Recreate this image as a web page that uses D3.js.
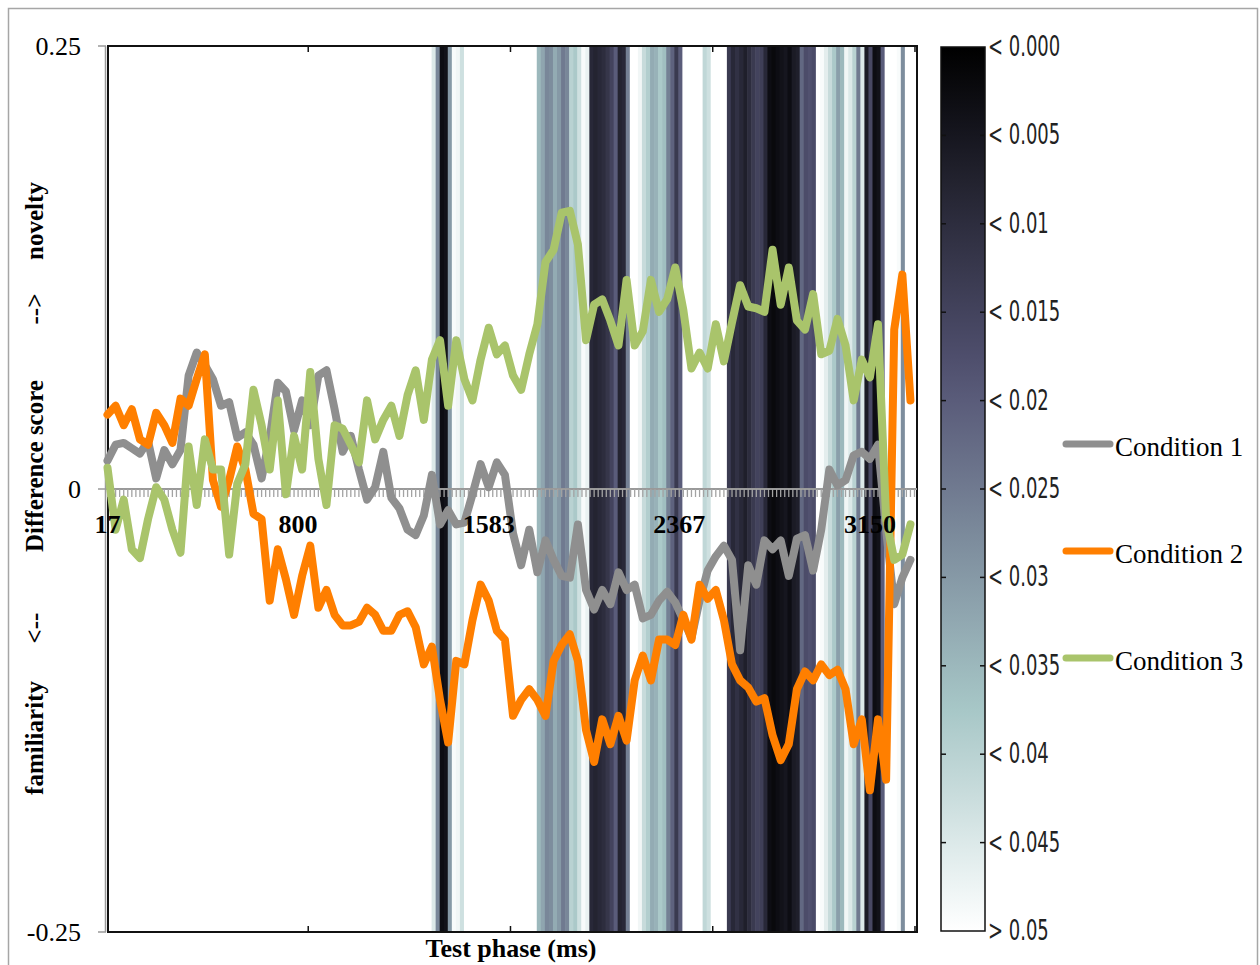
<!DOCTYPE html>
<html>
<head>
<meta charset="utf-8">
<script src="https://cdn.jsdelivr.net/npm/d3@7/dist/d3.min.js"></script>
<style>
  body { margin: 0; background: #fff; }
  svg { display: block; }
</style>
</head>
<body>
<svg id="chart" width="1260" height="965"></svg>
<script>
// ---- data ----
const nCategories = 200;          // line-chart categories (time bins)
const sampleStep = 2;             // series are read every 2nd category
const tickIndex = [0, 47, 94, 141, 188];
const tickLabels = ['17', '800', '1583', '2367', '3150'];

const seriesNames = ['Condition 1', 'Condition 2', 'Condition 3'];
const seriesColors = ['#8f8f8f', '#ff7f00', '#a9c46b'];

const condition1 = [
  0.016, 0.025, 0.026, 0.023, 0.020, 0.027, 0.006, 0.022, 0.014, 0.022,
  0.064, 0.077, 0.070, 0.062, 0.047, 0.049, 0.029, 0.032, 0.025, 0.006,
  0.029, 0.060, 0.055, 0.033, 0.050, 0.036, 0.064, 0.067, 0.045, 0.021,
  0.030, 0.011, -0.006, 0.001, 0.021, -0.005, -0.011, -0.023, -0.026, -0.015,
  0.008, -0.020, -0.012, -0.020, -0.019, -0.003, 0.014, 0.001, 0.015, 0.008,
  -0.025, -0.043, -0.023, -0.047, -0.029, -0.040, -0.049, -0.050, -0.020, -0.057,
  -0.068, -0.057, -0.065, -0.047, -0.057, -0.054, -0.073, -0.071, -0.063, -0.058,
  -0.064, -0.074, -0.084, -0.063, -0.046, -0.038, -0.032, -0.040, -0.091, -0.043,
  -0.054, -0.029, -0.034, -0.029, -0.049, -0.028, -0.026, -0.046, -0.023, 0.011,
  0.002, 0.005, 0.019, 0.021, 0.017, 0.025, -0.023, -0.065, -0.050, -0.040
];
const condition2 = [
  0.042, 0.047, 0.036, 0.045, 0.028, 0.025, 0.043, 0.036, 0.026, 0.051,
  0.047, 0.062, 0.076, 0.005, -0.010, 0.005, 0.024, 0.011, -0.014, -0.017,
  -0.063, -0.034, -0.051, -0.071, -0.049, -0.032, -0.067, -0.057, -0.071, -0.077,
  -0.077, -0.075, -0.067, -0.071, -0.080, -0.080, -0.071, -0.069, -0.078, -0.099,
  -0.089, -0.119, -0.143, -0.097, -0.099, -0.074, -0.054, -0.063, -0.080, -0.085,
  -0.128, -0.119, -0.113, -0.119, -0.128, -0.097, -0.088, -0.082, -0.097, -0.136,
  -0.154, -0.130, -0.144, -0.128, -0.142, -0.108, -0.094, -0.108, -0.085, -0.085,
  -0.088, -0.071, -0.085, -0.054, -0.062, -0.057, -0.074, -0.099, -0.108, -0.112,
  -0.120, -0.118, -0.139, -0.153, -0.144, -0.113, -0.103, -0.108, -0.099, -0.105,
  -0.102, -0.113, -0.144, -0.130, -0.170, -0.130, -0.164, 0.090, 0.121, 0.050
];
const condition3 = [
  0.012, -0.023, -0.006, -0.034, -0.039, -0.017, 0.001, -0.006, -0.023, -0.036,
  0.024, -0.009, 0.028, 0.011, 0.011, -0.037, 0.003, 0.014, 0.056, 0.036,
  0.011, 0.050, -0.003, 0.030, 0.011, 0.066, 0.017, -0.009, 0.036, 0.034,
  0.025, 0.015, 0.050, 0.028, 0.039, 0.047, 0.030, 0.053, 0.067, 0.039,
  0.073, 0.084, 0.047, 0.084, 0.062, 0.050, 0.073, 0.091, 0.076, 0.081,
  0.064, 0.056, 0.076, 0.093, 0.128, 0.135, 0.156, 0.157, 0.138, 0.084,
  0.104, 0.107, 0.095, 0.081, 0.118, 0.081, 0.089, 0.118, 0.100, 0.107,
  0.125, 0.101, 0.068, 0.077, 0.068, 0.093, 0.072, 0.094, 0.115, 0.103,
  0.102, 0.100, 0.135, 0.104, 0.125, 0.095, 0.090, 0.110, 0.076, 0.078,
  0.096, 0.081, 0.050, 0.073, 0.063, 0.093, -0.017, -0.040, -0.037, -0.020
];

// p-value map behind the lines: 200 columns, p > 0.05 everywhere except these
const sigColumns = [
  80, 81, 82, 83, 84, 85, 86, 87,
  106, 107, 108, 109, 110, 111, 112, 113, 114, 115, 116, 117, 118, 119, 120,
  121, 122, 123, 124, 125, 126, 127, 128,
  131, 132, 133, 134, 135, 136, 137, 138, 139, 140, 141,
  147, 148,
  153, 154, 155, 156, 157, 158, 159, 160, 161, 162, 163, 164, 165, 166, 167,
  168, 169, 170, 171, 172, 173, 174,
  176, 177, 178, 179, 180, 181, 182, 183, 184, 185, 186, 187, 188, 189, 190, 191,
  195, 196
];
const sigP = [
  0.045, 0.027, 0.003, 0.004, 0.030, 0.049, 0.048, 0.043,
  0.035, 0.032, 0.027, 0.028, 0.033, 0.030, 0.025, 0.027, 0.040, 0.038, 0.043, 0.049, 0.047, 0.009, 0.008,
  0.009, 0.010, 0.012, 0.015, 0.020, 0.008, 0.009, 0.026,
  0.048, 0.042, 0.039, 0.033, 0.034, 0.038, 0.036, 0.026, 0.021, 0.013, 0.020,
  0.041, 0.043,
  0.013, 0.009, 0.011, 0.009, 0.007, 0.010, 0.013, 0.015, 0.014, 0.009, 0.003, 0.002, 0.003, 0.004, 0.005,
  0.003, 0.006, 0.007, 0.022, 0.017, 0.018, 0.017,
  0.049, 0.046, 0.042, 0.038, 0.031, 0.035, 0.048, 0.045, 0.040, 0.025, 0.045, 0.006, 0.016, 0.003, 0.004, 0.020,
  0.049, 0.028
];

const colorbarTicks = [0, 0.005, 0.01, 0.015, 0.02, 0.025, 0.03, 0.035, 0.04, 0.045, 0.05];
const colorbarLabels = ['< 0.000', '< 0.005', '< 0.01', '< 0.015', '< 0.02', '< 0.025',
  '< 0.03', '< 0.035', '< 0.04', '< 0.045', '> 0.05'];

// ---- layout ----
const svg = d3.select('#chart');
const plot = { left: 108, right: 917, top: 46, bottom: 932 };
const serif = '"Liberation Serif", "Times New Roman", Times, serif';
const narrow = '"Liberation Sans Narrow", "DejaVu Sans Condensed", "Arial Narrow", sans-serif';

svg.append('rect')
  .attr('width', 1260).attr('height', 965).attr('fill', '#fff');

// outer frame
svg.append('rect')
  .attr('x', 8.5).attr('y', 8.5)
  .attr('width', 1249).attr('height', 980)
  .attr('fill', 'none')
  .attr('stroke', '#a6a6a6')
  .attr('stroke-width', 1.5);

// scales
const x = d3.scaleLinear().domain([0, nCategories - 1]).range([107.5, 914.5]);
const y = d3.scaleLinear().domain([-0.25, 0.25]).range([plot.bottom, plot.top]);
const xHeat = d3.scaleLinear().domain([0.5, nCategories + 0.5]).range([plot.left, plot.right]);
// reversed "bone" colormap, p = 0 black -> p = 0.05 white
const pColor = d3.scaleLinear()
  .domain([0, 0.01875, 0.0375, 0.05])
  .range(['#000000', '#545474', '#a7c7c7', '#ffffff'])
  .clamp(true);

// ---- heat map ----
const pValues = d3.range(nCategories).map(() => 0.05);
sigColumns.forEach((c, i) => { pValues[c] = sigP[i]; });

svg.append('g')
  .attr('class', 'heat')
  .selectAll('rect')
  .data(pValues)
  .enter()
  .append('rect')
  .attr('x', (d, i) => xHeat(i + 0.5))
  .attr('y', plot.top)
  .attr('width', xHeat(1.5) - xHeat(0.5) + 0.6)
  .attr('height', plot.bottom - plot.top)
  .attr('fill', d => pColor(d));

// frame of the map and its ticks
svg.append('rect')
  .attr('x', plot.left).attr('y', plot.top)
  .attr('width', plot.right - plot.left)
  .attr('height', plot.bottom - plot.top)
  .attr('fill', 'none')
  .attr('stroke', '#111')
  .attr('stroke-width', 2);

const heatTicks = [50, 100, 150, 200];
heatTicks.forEach(t => {
  svg.append('line')
    .attr('x1', xHeat(t)).attr('x2', xHeat(t))
    .attr('y1', plot.top).attr('y2', plot.top + 6)
    .attr('stroke', '#111').attr('stroke-width', 1.5);
  svg.append('line')
    .attr('x1', xHeat(t)).attr('x2', xHeat(t))
    .attr('y1', plot.bottom).attr('y2', plot.bottom - 6)
    .attr('stroke', '#111').attr('stroke-width', 1.5);
});

// ---- value axis (left) ----
svg.append('line')
  .attr('x1', 105.5).attr('x2', 105.5)
  .attr('y1', plot.top).attr('y2', plot.bottom)
  .attr('stroke', '#9a9a9a').attr('stroke-width', 1.5);

const yTicks = [0.25, 0, -0.25];
const yTickText = ['0.25', '0', '-0.25'];
yTicks.forEach((v, i) => {
  svg.append('line')
    .attr('x1', 98).attr('x2', 106)
    .attr('y1', y(v)).attr('y2', y(v))
    .attr('stroke', '#9a9a9a').attr('stroke-width', 1.5);
  svg.append('text')
    .attr('x', 81).attr('y', y(v))
    .attr('dy', '0.35em')
    .attr('text-anchor', 'end')
    .style('font-family', serif)
    .style('font-size', '26px')
    .text(yTickText[i]);
});

// ---- category axis on zero ----
const zeroY = y(0);
svg.append('line')
  .attr('x1', 106).attr('x2', plot.right)
  .attr('y1', zeroY).attr('y2', zeroY)
  .attr('stroke', '#999').attr('stroke-width', 2);

svg.append('g')
  .selectAll('line')
  .data(d3.range(nCategories))
  .enter()
  .append('line')
  .attr('x1', d => x(d)).attr('x2', d => x(d))
  .attr('y1', zeroY).attr('y2', zeroY + 8)
  .attr('stroke', '#a3a3a3').attr('stroke-width', 1.3);

// ---- series ----
const seriesData = [condition1, condition2, condition3];
const line = d3.line()
  .x((d, i) => x(i * sampleStep))
  .y(d => y(d));

svg.append('g')
  .selectAll('path')
  .data(seriesData)
  .enter()
  .append('path')
  .attr('d', d => line(d))
  .attr('fill', 'none')
  .attr('stroke', (d, i) => seriesColors[i])
  .attr('stroke-width', 8)
  .attr('stroke-linejoin', 'round')
  .attr('stroke-linecap', 'round');

// category labels
svg.append('g')
  .selectAll('text')
  .data(tickIndex)
  .enter()
  .append('text')
  .attr('x', d => x(d))
  .attr('y', 533)
  .attr('text-anchor', 'middle')
  .style('font-family', serif)
  .style('font-weight', 'bold')
  .style('font-size', '26px')
  .text((d, i) => tickLabels[i]);

// axis titles
svg.append('text')
  .attr('x', 511).attr('y', 957)
  .attr('text-anchor', 'middle')
  .style('font-family', serif)
  .style('font-weight', 'bold')
  .style('font-size', '26px')
  .text('Test phase (ms)');

const yTitleParts = ['familiarity', '<--', 'Difference score', '-->', 'novelty'];
const yTitleCentres = [738, 628, 466, 309, 221];
yTitleParts.forEach((s, i) => {
  svg.append('text')
    .attr('transform', `translate(34, ${yTitleCentres[i]}) rotate(-90)`)
    .attr('dy', '0.35em')
    .attr('text-anchor', 'middle')
    .style('font-family', serif)
    .style('font-weight', 'bold')
    .style('font-size', '25px')
    .text(s);
});

// ---- colour bar ----
const bar = { x: 941, y: 47, w: 44, h: 884 };
const yBar = d3.scaleLinear().domain([0, 0.05]).range([bar.y, bar.y + bar.h]);

const defs = svg.append('defs');
const grad = defs.append('linearGradient')
  .attr('id', 'pgrad')
  .attr('x1', '0%').attr('y1', '0%')
  .attr('x2', '0%').attr('y2', '100%');
for (let i = 0; i <= 20; i++) {
  const t = i / 20;
  grad.append('stop')
    .attr('offset', `${t * 100}%`)
    .attr('stop-color', pColor(t * 0.05));
}

svg.append('rect')
  .attr('x', bar.x).attr('y', bar.y)
  .attr('width', bar.w).attr('height', bar.h)
  .attr('fill', 'url(#pgrad)')
  .attr('stroke', '#111')
  .attr('stroke-width', 1.5);

colorbarTicks.forEach((p, i) => {
  if (i > 0 && i < colorbarTicks.length - 1) {
    svg.append('line')
      .attr('x1', bar.x).attr('x2', bar.x + 5)
      .attr('y1', yBar(p)).attr('y2', yBar(p))
      .attr('stroke', '#111').attr('stroke-width', 1.5);
    svg.append('line')
      .attr('x1', bar.x + bar.w - 5).attr('x2', bar.x + bar.w)
      .attr('y1', yBar(p)).attr('y2', yBar(p))
      .attr('stroke', '#111').attr('stroke-width', 1.5);
  }
  svg.append('text')
    .attr('transform', `translate(988, ${yBar(p) - 1}) scale(0.8, 1.15)`)
    .attr('dy', '0.35em')
    .style('font-family', narrow)
    .style('font-size', '25px')
    .style('fill', '#222')
    .text(colorbarLabels[i]);
});

// ---- legend ----
const legendY = [444, 551, 658];
const legend = svg.append('g').attr('class', 'legend');
const items = legend.selectAll('.legend-item')
  .data(seriesNames)
  .enter()
  .append('g')
  .attr('class', 'legend-item')
  .attr('transform', (d, i) => `translate(1063, ${legendY[i]})`);

items.append('line')
  .attr('x1', 3).attr('x2', 47)
  .attr('y1', 0).attr('y2', 0)
  .attr('stroke', (d, i) => seriesColors[i])
  .attr('stroke-width', 7)
  .attr('stroke-linecap', 'round');

items.append('text')
  .attr('x', 52)
  .attr('y', 12)
  .style('font-family', serif)
  .style('font-size', '27px')
  .text(d => d);
</script>
</body>
</html>
